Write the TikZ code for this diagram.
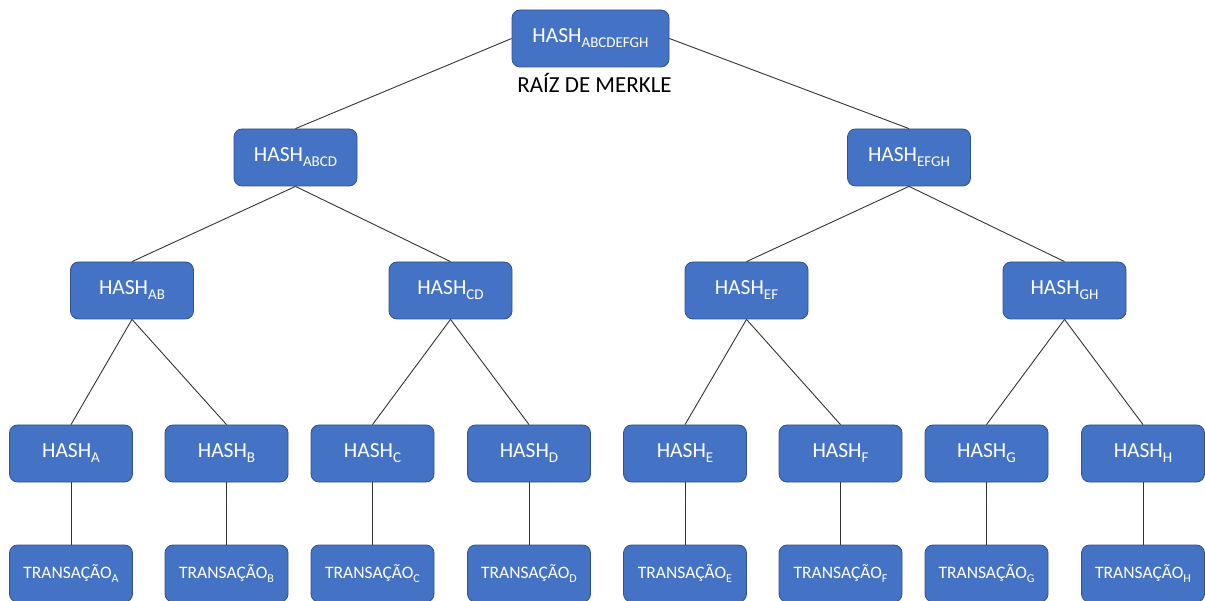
\documentclass[tikz,border=0pt]{standalone}
\usepackage{fontspec}
\setmainfont{Carlito}
\usetikzlibrary{positioning}
\newcommand{\sub}[1]{{\fontsize{15}{15}\selectfont\raisebox{-5pt}{#1}}}
\newcommand{\tsub}[1]{{\fontsize{12}{12}\selectfont\raisebox{-4pt}{#1}}}
\definecolor{hashblue}{HTML}{4472C4}
\definecolor{hashedge}{HTML}{2F528F}
\tikzset{
x=1pt, y=-1pt, % one unit is one pixel of the layout
hash/.style={draw=hashedge, line width=0.8pt, fill=hashblue, rounded corners=8pt, text=white, minimum width=123pt, minimum height=57pt, inner sep=0pt, font=\fontsize{21.5}{21.5}\selectfont}, % every hash box
tx/.style={hash, font=\fontsize{17.5}{17.5}\selectfont}, % the transaction boxes
link/.style={draw=black!80, line width=0.9pt}, % the tree edges
}

\begin{document}
\begin{tikzpicture}
        \useasboundingbox (0,0) rectangle (1205,601);

        \node[hash, minimum width=157pt] (Root) at (590.5,38.5) {HASH\sub{ABCDEFGH}};
        \node[font=\fontsize{23}{23}\selectfont] (RootLabel) at (594.5,83) {RAÍZ DE MERKLE};

        \node[hash] (ABCD) at (295.5,157.5) {HASH\sub{ABCD}};
        \node[hash] (EFGH) at (909,157.5) {HASH\sub{EFGH}};

        \node[hash] (AB) at (132,290.5) {HASH\sub{AB}};
        \node[hash] (CD) at (450.5,290.5) {HASH\sub{CD}};
        \node[hash] (EF) at (746.5,290.5) {HASH\sub{EF}};
        \node[hash] (GH) at (1064.5,290.5) {HASH\sub{GH}};

        \foreach \leaf/\x in {A/71, B/226.5, C/372.5, D/529, E/685, F/840.5, G/986.5, H/1143} {
            \node[hash] (H\leaf) at (\x,453.5) {HASH\sub{\leaf}};
            \node[tx] (T\leaf) at (\x,573.5) {TRANSAÇÃO\tsub{\leaf}};
            \draw[link] (H\leaf.south) -- (T\leaf.north);
        }

        \draw[link] (Root.west) -- (ABCD.north);
        \draw[link] (Root.east) -- (EFGH.north);
        \draw[link] (ABCD.south) -- (AB.north);
        \draw[link] (ABCD.south) -- (CD.north);
        \draw[link] (EFGH.south) -- (EF.north);
        \draw[link] (EFGH.south) -- (GH.north);
        \draw[link] (AB.south) -- (HA.north);
        \draw[link] (AB.south) -- (HB.north);
        \draw[link] (CD.south) -- (HC.north);
        \draw[link] (CD.south) -- (HD.north);
        \draw[link] (EF.south) -- (HE.north);
        \draw[link] (EF.south) -- (HF.north);
        \draw[link] (GH.south) -- (HG.north);
        \draw[link] (GH.south) -- (HH.north);
    \end{tikzpicture}
\end{document}
